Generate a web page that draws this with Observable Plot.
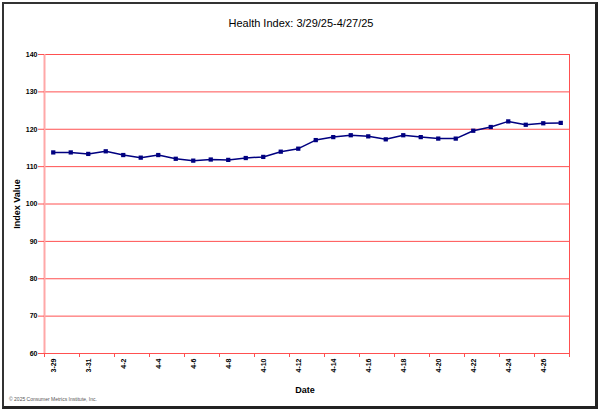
<!DOCTYPE html>
<html>
<head>
<meta charset="utf-8">
<script src="https://cdn.jsdelivr.net/npm/d3@7"></script>
<script src="https://cdn.jsdelivr.net/npm/@observablehq/plot@0.6"></script>
<style>
  html, body { margin: 0; padding: 0; background: #fff; }
  #wrap { position: relative; width: 602px; height: 411px; background: #fff; overflow: hidden;
          font-family: "Liberation Sans", Arial, sans-serif; }
  #frame { position: absolute; left: 2px; top: 2px; width: 591px; height: 402px;
           border-left: 2px solid #333; border-top: 2px solid #333;
           border-right: 3px solid #222; border-bottom: 3px solid #222; box-sizing: content-box; }
  .t { position: absolute; color: #000; white-space: nowrap; }
  #title { left: 0; width: 602px; top: 17px; text-align: center; font-size: 11px; }
  #ylab { left: 17px; top: 204px; font-size: 9px; font-weight: bold; transform: translate(-50%, -50%) rotate(-90deg); }
  #xlab { left: 305px; top: 390px; font-size: 9px; font-weight: bold; transform: translate(-50%, -50%); }
  #copy { left: 9px; top: 396px; font-size: 5px; color: #555; }
  #chart { position: absolute; left: 0; top: 0; }
</style>
</head>
<body>
<div id="wrap">
  <div id="chart"></div>
  <div id="frame"></div>
  <div class="t" id="title">Health Index: 3/29/25-4/27/25</div>
  <div class="t" id="ylab">Index Value</div>
  <div class="t" id="xlab">Date</div>
  <div class="t" id="copy">© 2025 Consumer Metrics Institute, Inc.</div>
</div>
<script>
const dates = ["3-29","3-30","3-31","4-1","4-2","4-3","4-4","4-5","4-6","4-7","4-8","4-9","4-10","4-11","4-12",
               "4-13","4-14","4-15","4-16","4-17","4-18","4-19","4-20","4-21","4-22","4-23","4-24","4-25","4-26","4-27"];
const values = [113.8,113.8,113.4,114.1,113.1,112.4,113.1,112.1,111.6,111.9,111.8,112.3,112.6,114.0,114.8,
                117.1,117.9,118.4,118.1,117.3,118.4,117.9,117.5,117.5,119.6,120.6,122.1,121.2,121.6,121.7];
const yTicks = [60,70,80,90,100,110,120,130,140];

const data = dates.map((d, i) => ({i, date: d, value: values[i]}));
const n = dates.length;
const labelIdx = dates.map((d, i) => i).filter(i => i % 2 === 0);
const boundaries = d3.range(-0.5, n, 2).concat([n - 0.5]);

const red = "#ff5050";
const chart = Plot.plot({
  width: 602,
  height: 411,
  marginLeft: 44,
  marginRight: 33,
  marginTop: 54,
  marginBottom: 58,
  style: {fontFamily: "'Liberation Sans', Arial, sans-serif", background: "transparent"},
  x: {type: "linear", domain: [-0.5, n - 0.5]},
  y: {domain: [60, 140]},
  marks: [
    Plot.gridY(yTicks, {stroke: red, strokeOpacity: 1, strokeWidth: 1}),
    Plot.ruleX([n - 0.5], {stroke: red, strokeWidth: 1}),
    Plot.ruleY([60], {stroke: red, strokeWidth: 1}),
    Plot.ruleX([-0.5], {stroke: "#ffa8a8", strokeWidth: 2}),
    Plot.axisY(yTicks, {tickSize: 6, tickPadding: 1, stroke: red, fontSize: 7, fontWeight: "bold", label: null}),
    Plot.axisX(boundaries, {tickSize: 4, stroke: red, tickFormat: () => "", label: null}),
    Plot.axisX(labelIdx, {tickSize: 0, tickPadding: 5, tickRotate: -90, tickFormat: i => dates[i],
                          fontSize: 7, fontWeight: "bold", label: null}),
    Plot.line(data, {x: "i", y: "value", stroke: "#000080", strokeWidth: 1.5}),
    Plot.dot(data, {x: "i", y: "value", symbol: "square", r: 2.4, fill: "#000080", stroke: "none"})
  ]
});
document.getElementById("chart").appendChild(chart);
</script>
</body>
</html>
